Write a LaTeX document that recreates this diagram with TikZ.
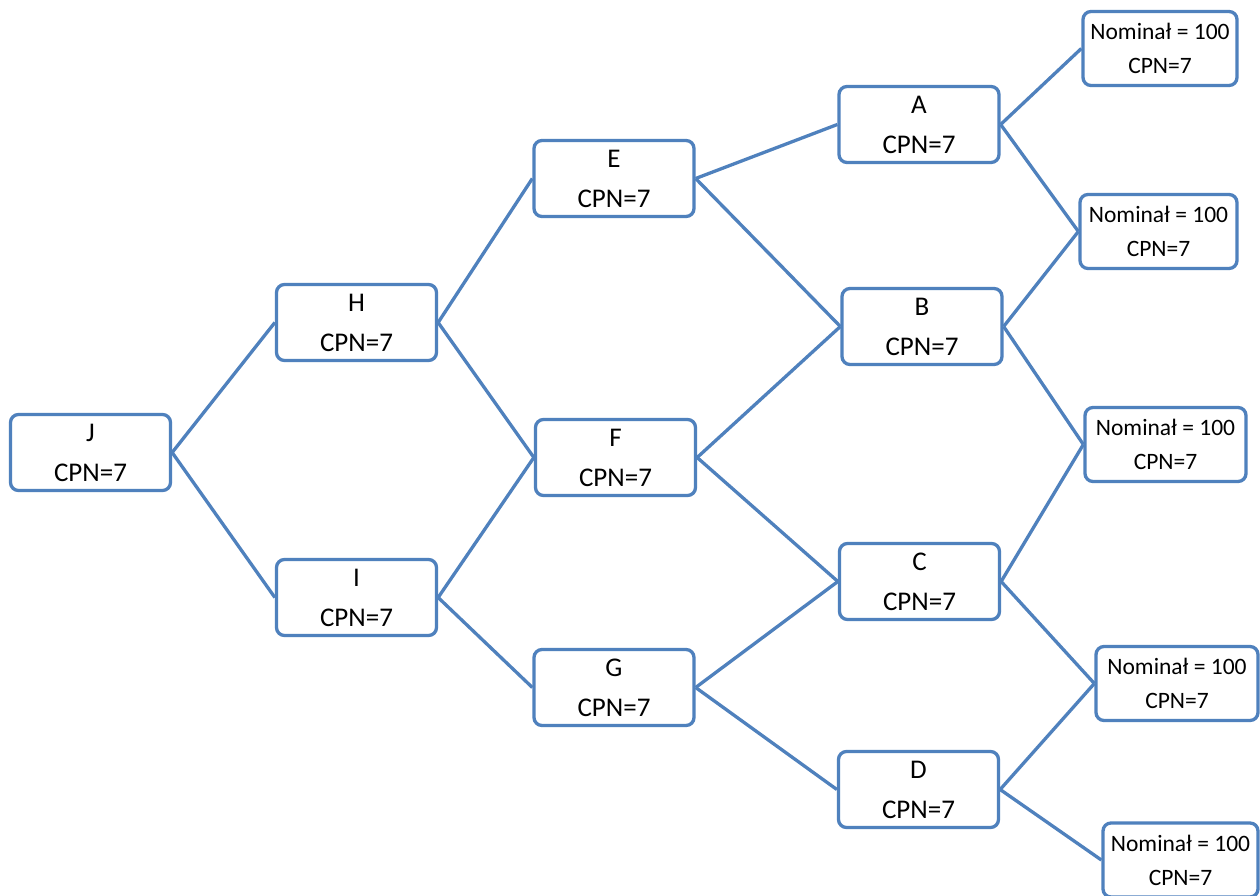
\documentclass[tikz,border=0pt]{standalone}
\usepackage{fontspec}
\setmainfont{Carlito}
\definecolor{lineblue}{HTML}{4F81BD}
\tikzset{
  box/.style={draw=lineblue, line width=3.3pt, rounded corners=8pt, fill=white,
    minimum width=160pt, minimum height=76pt, align=center, inner sep=0pt,
    font=\fontsize{27}{40}\selectfont, text=black},
  leaf/.style={box, minimum width=155pt, minimum height=74pt,
    font=\fontsize{23.5}{34}\selectfont},
  conn/.style={draw=lineblue, line width=3.3pt}
}
\begin{document}
\begin{tikzpicture}[x=1pt,y=-1pt]
\clip (0,0) rectangle (1260,896);
\fill[white] (0,0) rectangle (1260,896);
% main nodes
\node[box] (J) at (90.5,452.5) {J\\CPN=7};
\node[box] (H) at (356.5,322.5) {H\\CPN=7};
\node[box] (I) at (356.5,597.5) {I\\CPN=7};
\node[box] (E) at (614,178.5) {E\\CPN=7};
\node[box] (F) at (615.5,457.5) {F\\CPN=7};
\node[box] (G) at (614,687.5) {G\\CPN=7};
\node[box] (A) at (919,124.5) {A\\CPN=7};
\node[box] (B) at (922,326.5) {B\\CPN=7};
\node[box] (C) at (919.5,581.5) {C\\CPN=7};
\node[box] (D) at (918.5,789.5) {D\\CPN=7};
% leaves
\node[leaf, minimum width=154pt] (L1) at (1160,48.5) {Nominał = 100\\CPN=7};
\node[leaf, minimum width=157pt] (L2) at (1158.5,231.5) {Nominał = 100\\CPN=7};
\node[leaf, minimum width=161pt] (L3) at (1165.5,444.5) {Nominał = 100\\CPN=7};
\node[leaf, minimum width=162pt] (L4) at (1177,683.5) {Nominał = 100\\CPN=7};
\node[leaf, minimum width=155pt] (L5) at (1180.5,860) {Nominał = 100\\CPN=7};
% connectors
\draw[conn] (J.east) -- (H.west);
\draw[conn] (J.east) -- (I.west);
\draw[conn] (H.east) -- (E.west);
\draw[conn] (H.east) -- (F.west);
\draw[conn] (I.east) -- (F.west);
\draw[conn] (I.east) -- (G.west);
\draw[conn] (E.east) -- (A.west);
\draw[conn] (E.east) -- (B.west);
\draw[conn] (F.east) -- (B.west);
\draw[conn] (F.east) -- (C.west);
\draw[conn] (G.east) -- (C.west);
\draw[conn] (G.east) -- (D.west);
\draw[conn] (A.east) -- (L1.west);
\draw[conn] (A.east) -- (L2.west);
\draw[conn] (B.east) -- (L2.west);
\draw[conn] (B.east) -- (L3.west);
\draw[conn] (C.east) -- (L3.west);
\draw[conn] (C.east) -- (L4.west);
\draw[conn] (D.east) -- (L4.west);
\draw[conn] (D.east) -- (L5.west);
\end{tikzpicture}
\end{document}
